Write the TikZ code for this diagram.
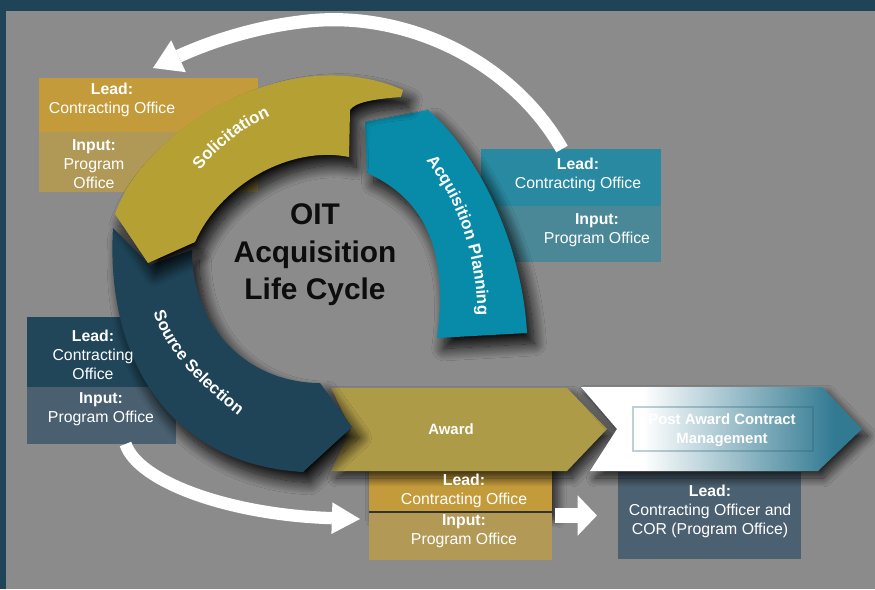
\documentclass[tikz,border=0pt]{standalone}
\usepackage{fontspec}
\setmainfont{Liberation Sans}
\usetikzlibrary{arrows.meta,calc,fit,shadows.blur,decorations.text}
\definecolor{frame}{HTML}{1F4457}
\definecolor{canvas}{HTML}{8B8B8B}
\definecolor{ringolive}{HTML}{B5A033}
\definecolor{ringteal}{HTML}{078BA8}
\definecolor{ringnavy}{HTML}{1F4458}
\definecolor{awardolive}{HTML}{AE9B48}
\definecolor{pateal}{HTML}{327A92}
\definecolor{solgold}{HTML}{C49B3A}
\definecolor{soltan}{HTML}{B09957}
\definecolor{apteal}{HTML}{2889A0}
\definecolor{apgrey}{HTML}{4A8897}
\definecolor{ssnavy}{HTML}{21465A}
\definecolor{ssslate}{HTML}{4A6070}
\definecolor{awgold}{HTML}{C49B3B}
\definecolor{awtan}{HTML}{B29A56}
\definecolor{paslate}{HTML}{4B6070}
\definecolor{titleink}{HTML}{0D0D0D}
\pgfdeclarehorizontalshading{pafade}{100bp}{color(0bp)=(white); color(36bp)=(white); color(70bp)=(pateal); color(100bp)=(pateal)}
\newcommand{\arcfont}{\fontsize{9.5}{11}\selectfont\bfseries}

\begin{document}
\begin{tikzpicture}[x=0.02cm, y=-0.02cm,
  box/.style={fill=#1, inner sep=0pt, outer sep=0pt},
  drop/.style={blur shadow={shadow xshift=3pt, shadow yshift=-4pt, shadow blur radius=5pt, shadow blur steps=20, shadow opacity=75}},
  ringdrop/.style={blur shadow={shadow xshift=4pt, shadow yshift=-6pt, shadow blur radius=7pt, shadow blur steps=24, shadow opacity=95}},
  seg/.style={fill=#1, drop},
  ringseg/.style={fill=#1, ringdrop},
  info/.style={font=\fontsize{9}{10.8}\selectfont, text=white, align=center, inner sep=0pt},
  tag/.style={font=\fontsize{8.5}{10.5}\selectfont\bfseries, text=white, align=center, inner sep=0pt},
  arclabel/.style={decorate, decoration={text along path, text align=center, text color=white, text={|\arcfont|#1}}},
  wa/.style={color=white, line width=#1}]
  \useasboundingbox (0,0) rectangle (875,589);
  \fill[frame] (0,0) rectangle (875,589);
  \fill[canvas] (6,11) rectangle (875,589);

  % info boxes under the ring
  \node[box=solgold, fit={(39,78)(258,132)}] (sollead) {};
  \node[box=soltan, fit={(39,132)(258,192)}] (solinput) {};
  \node[box=apteal, fit={(481,149)(661,206)}] (aplead) {};
  \node[box=apgrey, fit={(481,206)(661,262)}] (apinput) {};
  \node[box=ssnavy, fit={(27,317)(176,387)}] (sslead) {};
  \node[box=ssslate, fit={(27,387)(176,444)}] (ssinput) {};
  \node[box=awgold, drop, fit={(369,458)(552,512)}] (awlead) {};
  \node[box=awtan, fit={(369,512)(552,560)}] (awinput) {};
  \draw[line width=0.8pt, black!80] (awlead.south west) -- (awlead.south east);
  \node[box=paslate, fit={(618,472)(801,559)}] (palead) {};

  % chevrons
  \fill[seg=awardolive] (331,388) -- (567,388) -- (607,429) -- (567,471) -- (331,471) -- (351,429) -- cycle;
  \shade[drop, shading=pafade] (581,387) -- (822,387) -- (862,429) -- (818,471) -- (590,471) -- (617,429) -- cycle;
  \node[draw=pateal!80!black, draw opacity=0.3, line width=1.6pt, inner sep=0pt, fit={(633,407)(813,451)}] (pabox) {};

  % ring
  \fill[ringseg=ringnavy] (113,228) .. controls (105,365) and (175,465) .. (303,472) -- (352,427) -- (320,383)
    .. controls (250,383) and (192,330) .. (192,250) -- (150,265) -- cycle;
  \fill[ringseg=ringteal] (365,122) -- (428,110) .. controls (475,150) and (522,240) .. (527,333) -- (437,338)
    .. controls (448,255) and (428,200) .. (367,173) -- cycle;
  \fill[ringseg=ringolive] (115,214) .. controls (145,128) and (290,40) .. (403,90) -- (401,97)
    .. controls (375,99) and (355,102) .. (350,110) -- (349,157) .. controls (290,145) and (220,185) .. (195,242) -- (148,263) -- cycle;

  \path[arclabel=Solicitation] (172,217) .. controls (197,157) and (252,112) .. (322,99);
  \path[arclabel=Acquisition Planning] (413,146) .. controls (466,200) and (481,280) .. (477,335);
  \path[arclabel=Source Selection] (152,307) .. controls (162,346) and (193,381) .. (243,419);

  \node[font=\fontsize{17}{21.3}\selectfont\bfseries, text=titleink, align=center] (title) at (315,255) {OIT\\Acquisition\\Life Cycle};

  % texts
  \node[info] (solleadtxt) at (112,100) {\textbf{Lead:}\\Contracting Office};
  \node[info] (solinputtxt) at (94,164) {\textbf{Input:}\\Program\\Office};
  \node[info] (apleadtxt) at (578,175) {\textbf{Lead:}\\Contracting Office};
  \node[info] (apinputtxt) at (597,230) {\textbf{Input:}\\Program Office};
  \node[info] (ssleadtxt) at (93,355) {\textbf{Lead:}\\Contracting\\Office};
  \node[info] (ssinputtxt) at (101,409) {\textbf{Input:}\\Program Office};
  \node[info] (awleadtxt) at (464,491) {\textbf{Lead:}\\Contracting Office};
  \node[info] (awinputtxt) at (464,531) {\textbf{Input:}\\Program Office};
  \node[info] (paleadtxt) at (710,511) {\textbf{Lead:}\\Contracting Officer and\\COR (Program Office)};
  \node[tag] (awardtag) at (451,429) {Award};
  \node[tag] (patag) at (722,430) {Post Award Contract\\Management};

  % white arrows
  \draw[wa=7.5pt, -{Triangle[length=16pt, width=20pt, line width=0pt]}] ($(aplead.north west)+(81,0)$) .. controls (510,58) and (400,8) .. (300,22)
    .. controls (250,28) and (205,44) .. ($(sollead.north west)+(114,-10)$);
  \draw[wa=7pt, -{Triangle[length=16pt, width=18pt, line width=0pt]}] ($(ssinput.south)+(24,0)$) .. controls (138,482) and (230,515) .. ($(awinput.north west)+(-9,7)$);
  \draw[wa=8pt, -{Triangle[length=11pt, width=23pt, line width=0pt]}, shorten <=1.7pt, shorten >=12pt] (awlead.east |- palead.west) -- (palead.west);
\end{tikzpicture}
\end{document}
